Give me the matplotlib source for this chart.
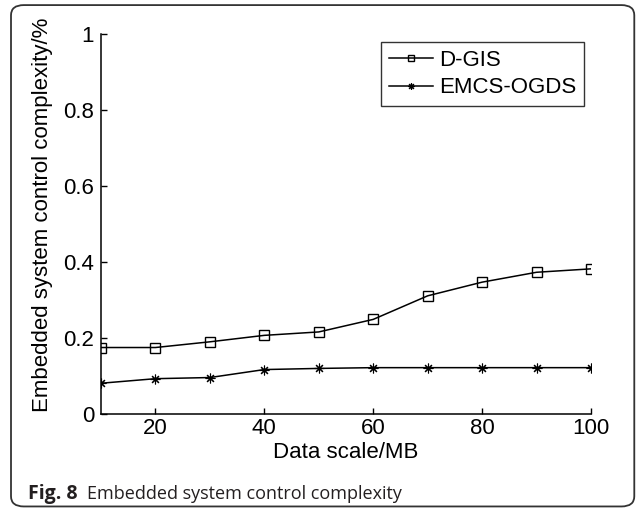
import numpy as np
import matplotlib
matplotlib.use("Agg")
import matplotlib.pyplot as plt
from matplotlib.patches import FancyBboxPatch

# Embedded system control complexity vs data scale

data_scale = [10, 20, 30, 40, 50, 60, 70, 80, 90, 100]
d_gis = [0.175, 0.175, 0.19, 0.207, 0.216, 0.249, 0.311, 0.347, 0.373, 0.382]
emcs_ogds = [0.081, 0.093, 0.096, 0.117, 0.120, 0.122, 0.122, 0.122, 0.122, 0.122]
x_ticks = [20, 40, 60, 80, 100]
y_ticks = [0, 0.2, 0.4, 0.6, 0.8, 1]
y_labels = ['0', '0.2', '0.4', '0.6', '0.8', '1']

plt.rcParams['font.family'] = ['Liberation Sans', 'DejaVu Sans']

fig = plt.figure(figsize=(6.36, 5.09), dpi=100)
ax = fig.add_axes([0.1588, 0.1866, 0.7704, 0.7466])

# matlab style asterisk = 8 armed star
asterisk = (8, 2, 0)
ax.plot(data_scale, d_gis, color='black', lw=1.1, marker='s', ms=6.5,
        mfc='none', mec='black', mew=1.0, label='D-GIS')
ax.plot(data_scale, emcs_ogds, color='black', lw=1.1, marker=asterisk, ms=7,
        mec='black', mew=0.8, label='EMCS-OGDS')

ax.set_xlim(10, 100)
ax.set_ylim(0, 1)
ax.set_xticks(x_ticks)
ax.set_yticks(y_ticks)
ax.set_yticklabels(y_labels)
ax.spines['top'].set_visible(False)
ax.spines['right'].set_visible(False)
for s in ['left', 'bottom']:
    ax.spines[s].set_linewidth(1.1)
ax.tick_params(direction='in', length=4, width=1.0, labelsize=16, pad=3)
ax.tick_params(axis='y', pad=5)
ax.set_xlabel('Data scale/MB', fontsize=16, labelpad=2)
ax.set_ylabel('Embedded system control complexity/%', fontsize=16)
ax.yaxis.set_label_coords(-0.098, 0.524)

leg = ax.legend(loc='upper left', bbox_to_anchor=(0.599, 0.9175),
                bbox_transform=fig.transFigure, fontsize=16,
                frameon=True, fancybox=False, edgecolor='black',
                handlelength=2.0, handletextpad=0.25, borderpad=0.35,
                labelspacing=0.3, markerscale=0.7, borderaxespad=0)
leg.get_frame().set_linewidth(1.0)

# figure border and caption
border = FancyBboxPatch((0.0173, 0.005), 0.980, 0.985,
                        boxstyle="round,pad=0,rounding_size=0.02",
                        transform=fig.transFigure, fill=False,
                        edgecolor='#333333', lw=1.3)
fig.patches.append(border)
fig.text(0.044, 0.0196, 'Fig. 8', fontsize=14, fontweight='bold',
         va='baseline', family=['Open Sans', 'DejaVu Sans'], color='#231f20')
fig.text(0.137, 0.0196, 'Embedded system control complexity', fontsize=13,
         va='baseline', family=['Open Sans', 'DejaVu Sans'], color='#231f20')

fig.savefig('out.png', dpi=100)
